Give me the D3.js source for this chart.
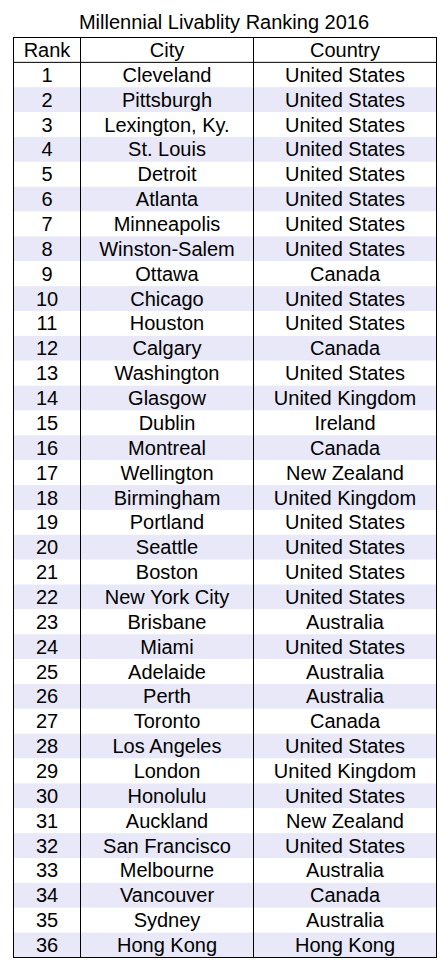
<!DOCTYPE html>
<html><head><meta charset="utf-8">
<script src="https://cdn.jsdelivr.net/npm/d3@7"></script>
<style>body{margin:0;background:#fff}</style></head>
<body><svg id="chart" width="448" height="966"></svg>
<script>
const columns = ["Rank", "City", "Country"];
const ranks = d3.range(1, 37);
const cities = ["Cleveland","Pittsburgh","Lexington, Ky.","St. Louis","Detroit","Atlanta","Minneapolis","Winston-Salem","Ottawa","Chicago","Houston","Calgary","Washington","Glasgow","Dublin","Montreal","Wellington","Birmingham","Portland","Seattle","Boston","New York City","Brisbane","Miami","Adelaide","Perth","Toronto","Los Angeles","London","Honolulu","Auckland","San Francisco","Melbourne","Vancouver","Sydney","Hong Kong"];
const countries = ["United States","United States","United States","United States","United States","United States","United States","United States","Canada","United States","United States","Canada","United States","United Kingdom","Ireland","Canada","New Zealand","United Kingdom","United States","United States","United States","United States","Australia","United States","Australia","Australia","Canada","United States","United Kingdom","United States","New Zealand","United States","Australia","Canada","Australia","Hong Kong"];

const rows = ranks.map((r, i) => [String(r), cities[i], countries[i]]);
const svg = d3.select("#chart");
const font = "'Liberation Sans', Arial, sans-serif";

const colEdges = [13.5, 80.5, 253.5, 436.5];
const y = d3.scaleLinear().domain([0, rows.length + 1]).range([37.5, 957.5]);
const rh = y(1) - y(0);

svg.append("text").attr("x", 224).attr("y", 29).attr("text-anchor", "middle")
  .attr("font-family", font).attr("font-size", 20).text("Millennial Livablity Ranking 2016");

// shaded rows
svg.selectAll("rect.band").data(rows).enter().append("rect")
  .attr("x", colEdges[0]).attr("width", colEdges[3] - colEdges[0])
  .attr("y", (d, i) => y(i + 1)).attr("height", rh)
  .attr("fill", (d, i) => i % 2 === 1 ? "#e8e8f8" : "#fff");

// header line
svg.append("line").attr("x1", colEdges[0]).attr("x2", colEdges[3])
  .attr("y1", y(1)).attr("y2", y(1)).attr("stroke", "#000");
// column lines
svg.selectAll("line.col").data(colEdges.slice(1, 3)).enter().append("line")
  .attr("x1", d => d).attr("x2", d => d).attr("y1", y(0)).attr("y2", y(rows.length + 1))
  .attr("stroke", "#000");
svg.append("rect").attr("x", colEdges[0]).attr("y", y(0))
  .attr("width", colEdges[3] - colEdges[0]).attr("height", y(rows.length + 1) - y(0))
  .attr("fill", "none").attr("stroke", "#000");

const all = [columns].concat(rows);
all.forEach((row, i) => {
  row.forEach((t, j) => {
    svg.append("text")
      .attr("x", (colEdges[j] + colEdges[j + 1]) / 2)
      .attr("y", y(i) + rh / 2 + 7)
      .attr("text-anchor", "middle").attr("font-family", font).attr("font-size", 20)
      .attr("fill", "#000").text(t);
  });
});
</script></body></html>
